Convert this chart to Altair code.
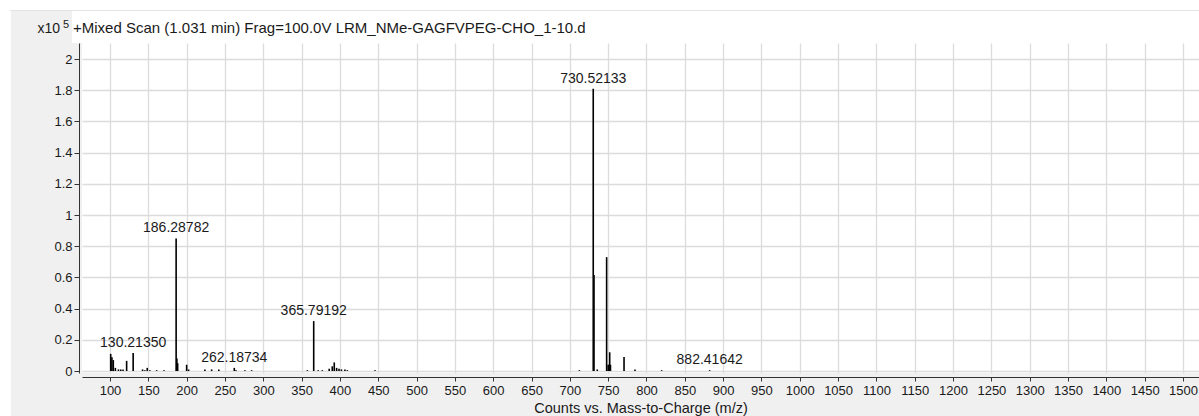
import altair as alt
import pandas as pd

# Peak list: m/z and abundance (x10^5 counts)
mz = [100.9, 102.5, 104.3, 107.0, 111.0, 114.0, 117.0, 121.7, 130.2135, 142.5,
      145.5, 148.6, 152.0, 160.9, 170.4, 186.28782, 187.3, 188.3, 200.0, 202.6,
      223.8, 232.6, 242.0, 262.18734, 264.4, 276.0, 284.8, 357.5, 365.79192, 371.7,
      377.0, 386.0, 390.0, 392.6, 395.7, 398.8, 402.0, 406.5, 409.6, 445.8,
      712.4, 730.52133, 731.5, 735.8, 748.0, 750.0, 751.0, 752.0, 753.0, 770.7,
      785.0, 819.8, 882.41642]
abundance = [0.11, 0.088, 0.07, 0.02, 0.01, 0.01, 0.01, 0.065, 0.115, 0.01,
             0.005, 0.02, 0.005, 0.005, 0.005, 0.85, 0.08, 0.05, 0.04, 0.01,
             0.01, 0.01, 0.01, 0.02, 0.005, 0.005, 0.005, 0.005, 0.32, 0.005,
             0.005, 0.015, 0.03, 0.055, 0.02, 0.015, 0.01, 0.01, 0.005, 0.005,
             0.005, 1.81, 0.615, 0.01, 0.73, 0.04, 0.04, 0.12, 0.04, 0.09,
             0.01, 0.005, 0.005]

labeled_mz = [130.2135, 186.28782, 262.18734, 365.79192, 730.52133, 882.41642]
labeled_ab = [0.115, 0.85, 0.02, 0.32, 1.81, 0.005]

x_ticks = list(range(100, 1501, 50))
y_ticks = [0, 0.2, 0.4, 0.6, 0.8, 1.0, 1.2, 1.4, 1.6, 1.8, 2.0]

title_text = "+Mixed Scan (1.031 min) Frag=100.0V LRM_NMe-GAGFVPEG-CHO_1-10.d"
x_title = "Counts vs. Mass-to-Charge (m/z)"

FONT = "Liberation Sans"
TXT = "#1a1a1a"

peaks = pd.DataFrame({"mz": mz, "ab": abundance, "zero": [0.0] * len(mz)})
labels = pd.DataFrame({"mz": labeled_mz, "ab": labeled_ab,
                       "lab": [f"{m:.5f}" for m in labeled_mz]})
one = pd.DataFrame({"a": [0]})

xscale = alt.Scale(domain=[63.47, 1520.9], nice=False, zero=False)
yscale = alt.Scale(domain=[-0.0128, 2.1026], nice=False, zero=False)

xaxis = alt.Axis(values=x_ticks, title=x_title, format="d", offset=4, tickSize=4,
                 labelPadding=3, labelFontSize=13, labelFont=FONT, labelColor=TXT,
                 titleFont=FONT, titleFontSize=14.5, titleFontWeight="normal",
                 titleColor=TXT, titlePadding=4, domainColor="#333333",
                 tickColor="#333333", gridColor="#dcdcdc", gridWidth=1.3,
                 labelFlush=False, labelOverlap=False)
yaxis = alt.Axis(values=y_ticks, title=None, offset=3, tickSize=5, labelPadding=2,
                 format=".1~f", labelFontSize=13, labelFont=FONT, labelColor=TXT,
                 domainColor="#333333", tickColor="#333333", gridColor="#dcdcdc",
                 gridWidth=1.3, labelOverlap=False, labelFlush=False)

X = alt.X("mz:Q", scale=xscale, axis=xaxis)
Y = alt.Y("ab:Q", scale=yscale, axis=yaxis)

rules = alt.Chart(peaks).mark_rule(color="black", strokeWidth=1.6).encode(
    x=X, y=Y, y2="zero:Q",
)

texts = alt.Chart(labels).mark_text(
    baseline="bottom", dy=-3, fontSize=14, font=FONT, color=TXT
).encode(x=X, y=Y, text="lab:N")

# decorative panels (white border strips and white title box)
top_strip = alt.Chart(one).mark_rect(color="white").encode(
    x=alt.value(-82), x2=alt.value(1117), y=alt.value(-43), y2=alt.value(-33))
top_line = alt.Chart(one).mark_rule(color="#e4e4e4", strokeWidth=1).encode(
    x=alt.value(-72), x2=alt.value(1117), y=alt.value(-32.5))
left_strip = alt.Chart(one).mark_rect(color="white").encode(
    x=alt.value(-82), x2=alt.value(-71), y=alt.value(-43), y2=alt.value(373))
title_box = alt.Chart(one).mark_rect(color="white").encode(
    x=alt.value(-10), x2=alt.value(1117), y=alt.value(-32), y2=alt.value(0))
title_mark = alt.Chart(one).mark_text(
    align="left", baseline="middle", fontSize=15, font=FONT, color=TXT
).encode(x=alt.value(-9), y=alt.value(-15), text=alt.value(title_text))
x10_mark = alt.Chart(one).mark_text(
    align="right", baseline="middle", fontSize=14, font=FONT, color=TXT
).encode(x=alt.value(-22), y=alt.value(-14), text=alt.value("x10"))
exp_mark = alt.Chart(one).mark_text(
    align="left", baseline="middle", fontSize=11, font=FONT, color=TXT
).encode(x=alt.value(-19), y=alt.value(-18), text=alt.value("5"))

chart = alt.layer(
    top_strip, left_strip, title_box, top_line, rules, texts,
    title_mark, x10_mark, exp_mark
).properties(
    width=1117, height=330,
    autosize=alt.AutoSizeParams(type="none"),
    padding={"left": 82, "top": 43, "right": 0, "bottom": 43},
    background="#f0f0f0",
).configure_view(fill="white", stroke=None)

chart.save("out.html", embed_options={"renderer": "svg", "actions": False})
